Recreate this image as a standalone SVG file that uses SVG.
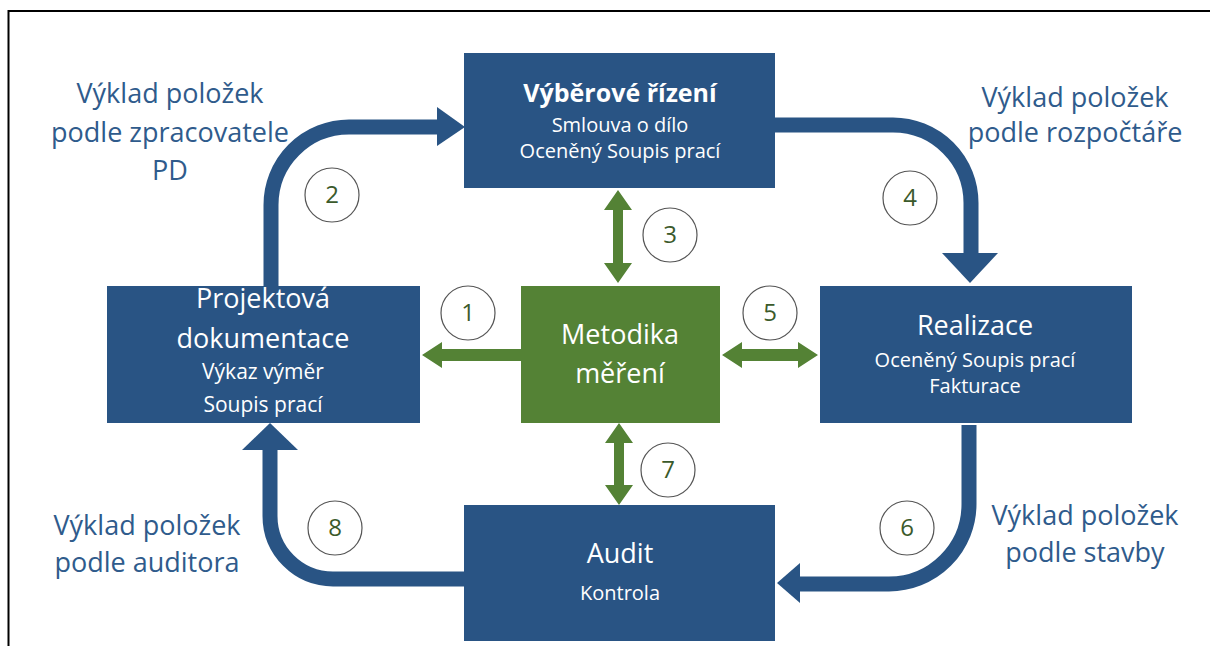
<svg xmlns="http://www.w3.org/2000/svg" width="1210" height="646" viewBox="0 0 1210 646">
<defs>
<style>
.box{fill:#295484}
.gbox{fill:#548235}
.flow{fill:none;stroke:#295484;stroke-width:15}
.head{fill:#295484}
.garrow{fill:#548235}
.num{fill:none;stroke:#555;stroke-width:1.2}
.numt{font-family:"Open Sans","Liberation Sans",sans-serif;font-size:24px;fill:#3b5a2b;text-anchor:middle}
.lbl{font-family:"Open Sans","Liberation Sans",sans-serif;font-size:27px;fill:#2f5b8c;text-anchor:middle}
.t1{font-family:"Open Sans","Liberation Sans",sans-serif;font-size:27px;fill:#fff;text-anchor:middle}
.tb{font-family:"Open Sans","Liberation Sans",sans-serif;font-size:25px;font-weight:bold;fill:#fff;text-anchor:middle}
.t2{font-family:"Open Sans","Liberation Sans",sans-serif;font-size:20px;fill:#fff;text-anchor:middle}
.t3{font-family:"Open Sans","Liberation Sans",sans-serif;font-size:21px;fill:#fff;text-anchor:middle}
</style>
</defs>
<rect width="1210" height="646" fill="#fff"/>
<path d="M8.5,646 V11 H1210" fill="none" stroke="#000" stroke-width="2"/>

<g id="connectors">
  <path class="flow" d="M271,290 V205 A78,78 0 0 1 349,127 H439"/>
  <polygon class="head" points="437,107 465,127 437,146"/>
  <path class="flow" d="M771,125 H893 A78,78 0 0 1 971,203 V255"/>
  <polygon class="head" points="942,253 998,253 970,283"/>
  <path class="flow" d="M969,425 V504 A80,80 0 0 1 889,584 H798"/>
  <polygon class="head" points="800,563 777,583 800,603"/>
  <path class="flow" d="M468,579 H333 A63,63 0 0 1 270,516 V448"/>
  <polygon class="head" points="242,450 270,423 298,450"/>
  <polygon class="garrow" points="521,349 442,349 442,342 422,355 442,368 442,361 521,361"/>
  <polygon class="garrow" points="722,355 742,342 742,349 798,349 798,342 818,355 798,368 798,361 742,361 742,368"/>
  <polygon class="garrow" points="618,190 632,210 623,210 623,263 632,263 618,283 604,263 613,263 613,210 604,210"/>
  <polygon class="garrow" points="619,423 633,443 624,443 624,485 633,485 619,505 605,485 614,485 614,443 605,443"/>
</g>

<g id="badges">
  <circle class="num" cx="468" cy="313" r="27"/><text class="numt" x="468" y="321">1</text>
  <circle class="num" cx="332" cy="195" r="27"/><text class="numt" x="332" y="203">2</text>
  <circle class="num" cx="670" cy="235" r="27"/><text class="numt" x="670" y="243">3</text>
  <circle class="num" cx="910" cy="198" r="27"/><text class="numt" x="910" y="206">4</text>
  <circle class="num" cx="770" cy="313" r="27"/><text class="numt" x="770" y="321">5</text>
  <circle class="num" cx="907" cy="528" r="27"/><text class="numt" x="907" y="536">6</text>
  <circle class="num" cx="668" cy="470" r="27"/><text class="numt" x="668" y="478">7</text>
  <circle class="num" cx="335" cy="528" r="27"/><text class="numt" x="335" y="536">8</text>
</g>

<g id="labels">
  <text class="lbl" x="170" y="103">Výklad položek</text>
  <text class="lbl" x="170" y="142">podle zpracovatele</text>
  <text class="lbl" x="170" y="180">PD</text>
  <text class="lbl" x="1075" y="107">Výklad položek</text>
  <text class="lbl" x="1075" y="142">podle rozpočtáře</text>
  <text class="lbl" x="147" y="535">Výklad položek</text>
  <text class="lbl" x="147" y="572">podle auditora</text>
  <text class="lbl" x="1085" y="525">Výklad položek</text>
  <text class="lbl" x="1085" y="562">podle stavby</text>
</g>

<g id="vyberove">
  <rect class="box" x="464" y="53" width="311" height="135"/>
  <text class="tb" x="620" y="102">Výběrové řízení</text>
  <text class="t2" x="620" y="132">Smlouva o dílo</text>
  <text class="t2" x="620" y="158">Oceněný Soupis prací</text>
</g>

<g id="projektova">
  <rect class="box" x="107" y="286" width="313" height="137"/>
  <text class="t1" x="263" y="308">Projektová</text>
  <text class="t1" x="263" y="348">dokumentace</text>
  <text class="t3" x="263" y="379">Výkaz výměr</text>
  <text class="t3" x="263" y="412">Soupis prací</text>
</g>

<g id="metodika">
  <rect class="gbox" x="521" y="286" width="199" height="137"/>
  <text class="t1" x="620" y="344">Metodika</text>
  <text class="t1" x="620" y="383">měření</text>
</g>

<g id="realizace">
  <rect class="box" x="820" y="286" width="312" height="137"/>
  <text class="t1" x="975" y="335">Realizace</text>
  <text class="t2" x="975" y="367">Oceněný Soupis prací</text>
  <text class="t2" x="975" y="393">Fakturace</text>
</g>

<g id="audit">
  <rect class="box" x="464" y="505" width="311" height="136"/>
  <text class="t1" x="620" y="563">Audit</text>
  <text class="t2" x="620" y="600">Kontrola</text>
</g>
</svg>
